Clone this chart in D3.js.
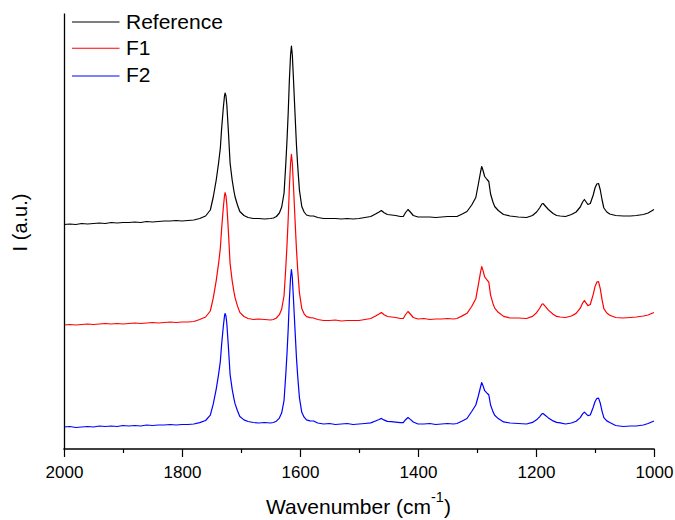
<!DOCTYPE html>
<html>
<head>
<meta charset="utf-8">
<script src="https://cdn.jsdelivr.net/npm/d3@7"></script>
<style>
  html, body { margin: 0; padding: 0; background: #fff; }
  svg { display: block; font-family: "Liberation Sans", Arial, sans-serif; }
</style>
</head>
<body>
<svg id="chart" width="675" height="520"></svg>
<script>
// ---------- data ----------
const wavenumbers = [
  2000,1990,1980,1970,1960,1950,1940,1930,1920,1910,1900,1890,1880,1870,1860,1850,1840,1830,1820,1810,1800,1790,1780,
  1770,1760,1752,1747,1742,1738,1735,1733,1730,1728,1727,1725.5,1724,1721.5,1718.5,1715,1712,1710,1706,1702,1695,1688,1679,1670,1660,1650,
  1645,1640,1635,1631,1627,1624,1622,1620,1618,1616,1614.5,1613,1611,1608.5,1606,1604,1601,1597,1593,1589,1583,1577,
  1570,1560,1550,1540,1530,1520,1510,1500,1490,
  1480,1472,1466,1462,1458,1452,1445,1438,1430,1425,1421,1417,1413,1408,1400,
  1390,1380,1370,1360,1350,1340,1334,
  1325,1317,1309,1302,1298,1294,1292,1290,1287,1283,1280,1277,1273,1270,1264,1255,1244,
  1230,1216,
  1206,1199,1194,1190,1188,1185,1179,1171,1165,1159,1150,
  1140,1132,1125,1121,1118,1115,1112,1108,1103,1100,1097,1094,1091,1088,1085,1080,1075,
  1065,1052,1040,1030,1018,1010,1000
];
const reference = [
  224.5,225,224.5,225.5,225,225.5,226,225.5,226.5,226,226.5,226.5,227,226.5,227.5,227,227.5,228,228,228.5,228,228.5,229,
  230.5,233,239,252,269,286,301,319,341,353,356,353,344,319,286,269,258,252,244,237.5,233.5,231.5,230.5,230.5,230,230.5,
  231,232.5,236,242,256,286,309,336,369,394,403,394,369,336,304,284,259,242.5,237,234,233,233,
  231.5,230.5,230.5,230.5,230,230.5,230,230.5,231.5,
  232.5,235,237,238.5,236.5,234.5,234,233.5,232.5,232.5,236.5,239.5,237,233.5,232,
  232,232,231.5,232,232.5,232.5,232.5,
  235,237.5,244,251.5,264,277,282.5,279,272.5,269.5,267.5,255,247,242.5,238.5,234.5,233,
  232,231.5,
  233.5,237,241,245,245.5,243.5,239.5,235.5,233.5,233,232.5,
  234.5,237,242,247,249.5,247,244.5,245.5,254,261,265,265.5,259,249,241,237,235,
  233.5,233,233,233.5,234.5,236,239.5
];
const f1 = [
  124,124.5,124,124.5,125,124.5,125,125.5,125,125.5,125,125.5,126,125.5,126,126.5,126,126.5,127,126.5,127,127,127.5,
  129.5,132,138,151.2,168.4,185.6,200.7,218.9,241.1,253.2,256.3,253.2,244.1,218.9,185.6,168.4,157.3,151.2,143.1,136.6,132.5,130.5,129.5,130,129.5,129,
  129.5,131,134.3,140,153.5,182.3,204.4,230.3,262,286,294.6,286,262,230.3,199.6,180.4,156.4,140.5,135.2,132.4,131.4,131,
  129.5,128.5,128.5,129,128,128.5,128.5,128.5,129.5,
  130.5,133,135,136.5,134.5,132.5,132,131.5,130.5,130.5,134.5,137.5,135,131.5,130,
  130.5,129.5,130,130,130.5,130,130.5,
  133.1,135.7,142.5,150.3,163.3,176.8,182.5,178.9,172.1,169,166.9,153.9,145.6,140.9,136.7,132.6,131,
  131,130.5,
  132.6,136.3,140.5,144.7,145.2,143.1,138.9,134.7,132.6,132,131.5,
  133,135.6,140.8,145.9,148.5,145.9,143.4,144.5,154.7,162.4,166.8,167.3,160.2,149.2,140.4,136,133.8,
  131.5,131,131.5,132,133,134,136.5
];
const f2 = [
  22,22.5,21.5,22,22.5,22,23,22.5,23,22.5,23.5,23,23.5,23,24,23.5,24,24,24.5,24,24.5,24.5,25,
  26.4,28.5,33.8,45.1,59.9,74.7,87.7,103.4,122.5,132.9,135.5,133,125.2,103.4,74.7,59.9,50.4,45.1,38.2,32.5,29.1,27.5,26.5,26,26.5,26,
  26.5,27.8,30.9,36.2,48.7,75.4,95.9,119.9,149.3,171.5,179.5,171.5,149.3,119.9,91.4,73.6,51.4,36.7,31.8,29.1,28.2,28,
  26,25,25.5,24.5,25,25.5,24.5,25,25.5,
  26.1,28,29.5,30.6,29.1,27.6,27.3,26.9,26.3,26.3,29.3,31.5,29.6,27,25,
  25,25.5,24.5,25,25.5,25,25.5,
  28,30.5,37.5,44,52.5,62,66.5,63.6,58.3,55.8,54.2,44,37.4,33.7,30.4,27.1,26,
  25.5,25,
  26.6,29.2,32.2,35.1,35.5,34,31.1,28.1,26.6,26.2,25,
  26,27.8,31.4,35.1,36.9,35.1,33.3,34,41.7,47.3,50.5,50.9,45.7,37.7,31.3,28.1,26.5,
  23.5,22.5,23,23,24,25.5,28
];
const seriesNames = ["Reference", "F1", "F2"];
const seriesColors = ["#000000", "#ff0000", "#0000ff"];
const majorTicks = [2000, 1800, 1600, 1400, 1200, 1000];
const minorTicks = [1900, 1700, 1500, 1300, 1100];
const xTitle = "Wavenumber (cm";
const xTitleSup = "-1";
const yTitle = "I (a.u.)";

// ---------- chart ----------
const svg = d3.select("#chart");
const x = d3.scaleLinear().domain([2000, 1000]).range([64, 654]);
const y = d3.scaleLinear().domain([0, 436]).range([449, 13]);

const allSeries = [reference, f1, f2];
const line = d3.line().x(d => x(d[0])).y(d => y(d[1]));

allSeries.forEach((vals, i) => {
  const pts = wavenumbers.map((w, j) => [w, vals[j]]);
  svg.append("path")
    .datum(pts)
    .attr("fill", "none")
    .attr("stroke", seriesColors[i])
    .attr("stroke-width", 1.2)
    .attr("stroke-linejoin", "round")
    .attr("d", line);
});

// bottom axis (major)
const gx = svg.append("g").attr("transform", "translate(0,449)");
gx.call(d3.axisBottom(x).tickValues(majorTicks).tickSize(8).tickSizeOuter(0).tickFormat(d3.format("d")));
gx.select(".domain").remove();
gx.selectAll(".tick line").attr("stroke", "#000").attr("stroke-width", 1.2);
gx.selectAll(".tick text")
  .attr("y", 28.5).attr("dy", 0)
  .attr("font-size", 17)
  .attr("font-family", "'Liberation Sans', Arial, sans-serif")
  .attr("fill", "#000");

// minor ticks
const gm = svg.append("g").attr("transform", "translate(0,449)");
gm.call(d3.axisBottom(x).tickValues(minorTicks).tickSize(4).tickSizeOuter(0).tickFormat(""));
gm.select(".domain").remove();
gm.selectAll(".tick line").attr("stroke", "#000").attr("stroke-width", 1.2);

// axis lines
svg.append("line").attr("x1", 63.4).attr("x2", 654.6).attr("y1", 449).attr("y2", 449)
  .attr("stroke", "#000").attr("stroke-width", 1.3);
const gy = svg.append("g").attr("transform", "translate(64,0)");
gy.call(d3.axisLeft(y).tickValues([]).tickSizeOuter(0));
gy.select(".domain").attr("stroke", "#000").attr("stroke-width", 1.3);

// axis titles
const xt = svg.append("text")
  .attr("x", 358.5).attr("y", 514)
  .attr("text-anchor", "middle")
  .attr("font-size", 21)
  .attr("fill", "#000");
xt.append("tspan").text(xTitle);
xt.append("tspan").attr("font-size", 14.5).attr("dy", -12).text(xTitleSup);
xt.append("tspan").attr("dy", 12).text(")");

svg.append("text")
  .attr("transform", "translate(27,222.5) rotate(-90)")
  .attr("text-anchor", "middle")
  .attr("font-size", 20)
  .attr("fill", "#000")
  .text(yTitle);

// legend
const legendLineY = [22, 48.3, 76];
const legendTextY = [29.3, 55.2, 82];
seriesNames.forEach((name, i) => {
  svg.append("line")
    .attr("x1", 72).attr("x2", 119.5)
    .attr("y1", legendLineY[i]).attr("y2", legendLineY[i])
    .attr("stroke", seriesColors[i]).attr("stroke-width", 1.1);
  svg.append("text")
    .attr("x", 126).attr("y", legendTextY[i])
    .attr("font-size", 21)
    .attr("fill", "#000")
    .text(name);
});
</script>
</body>
</html>
